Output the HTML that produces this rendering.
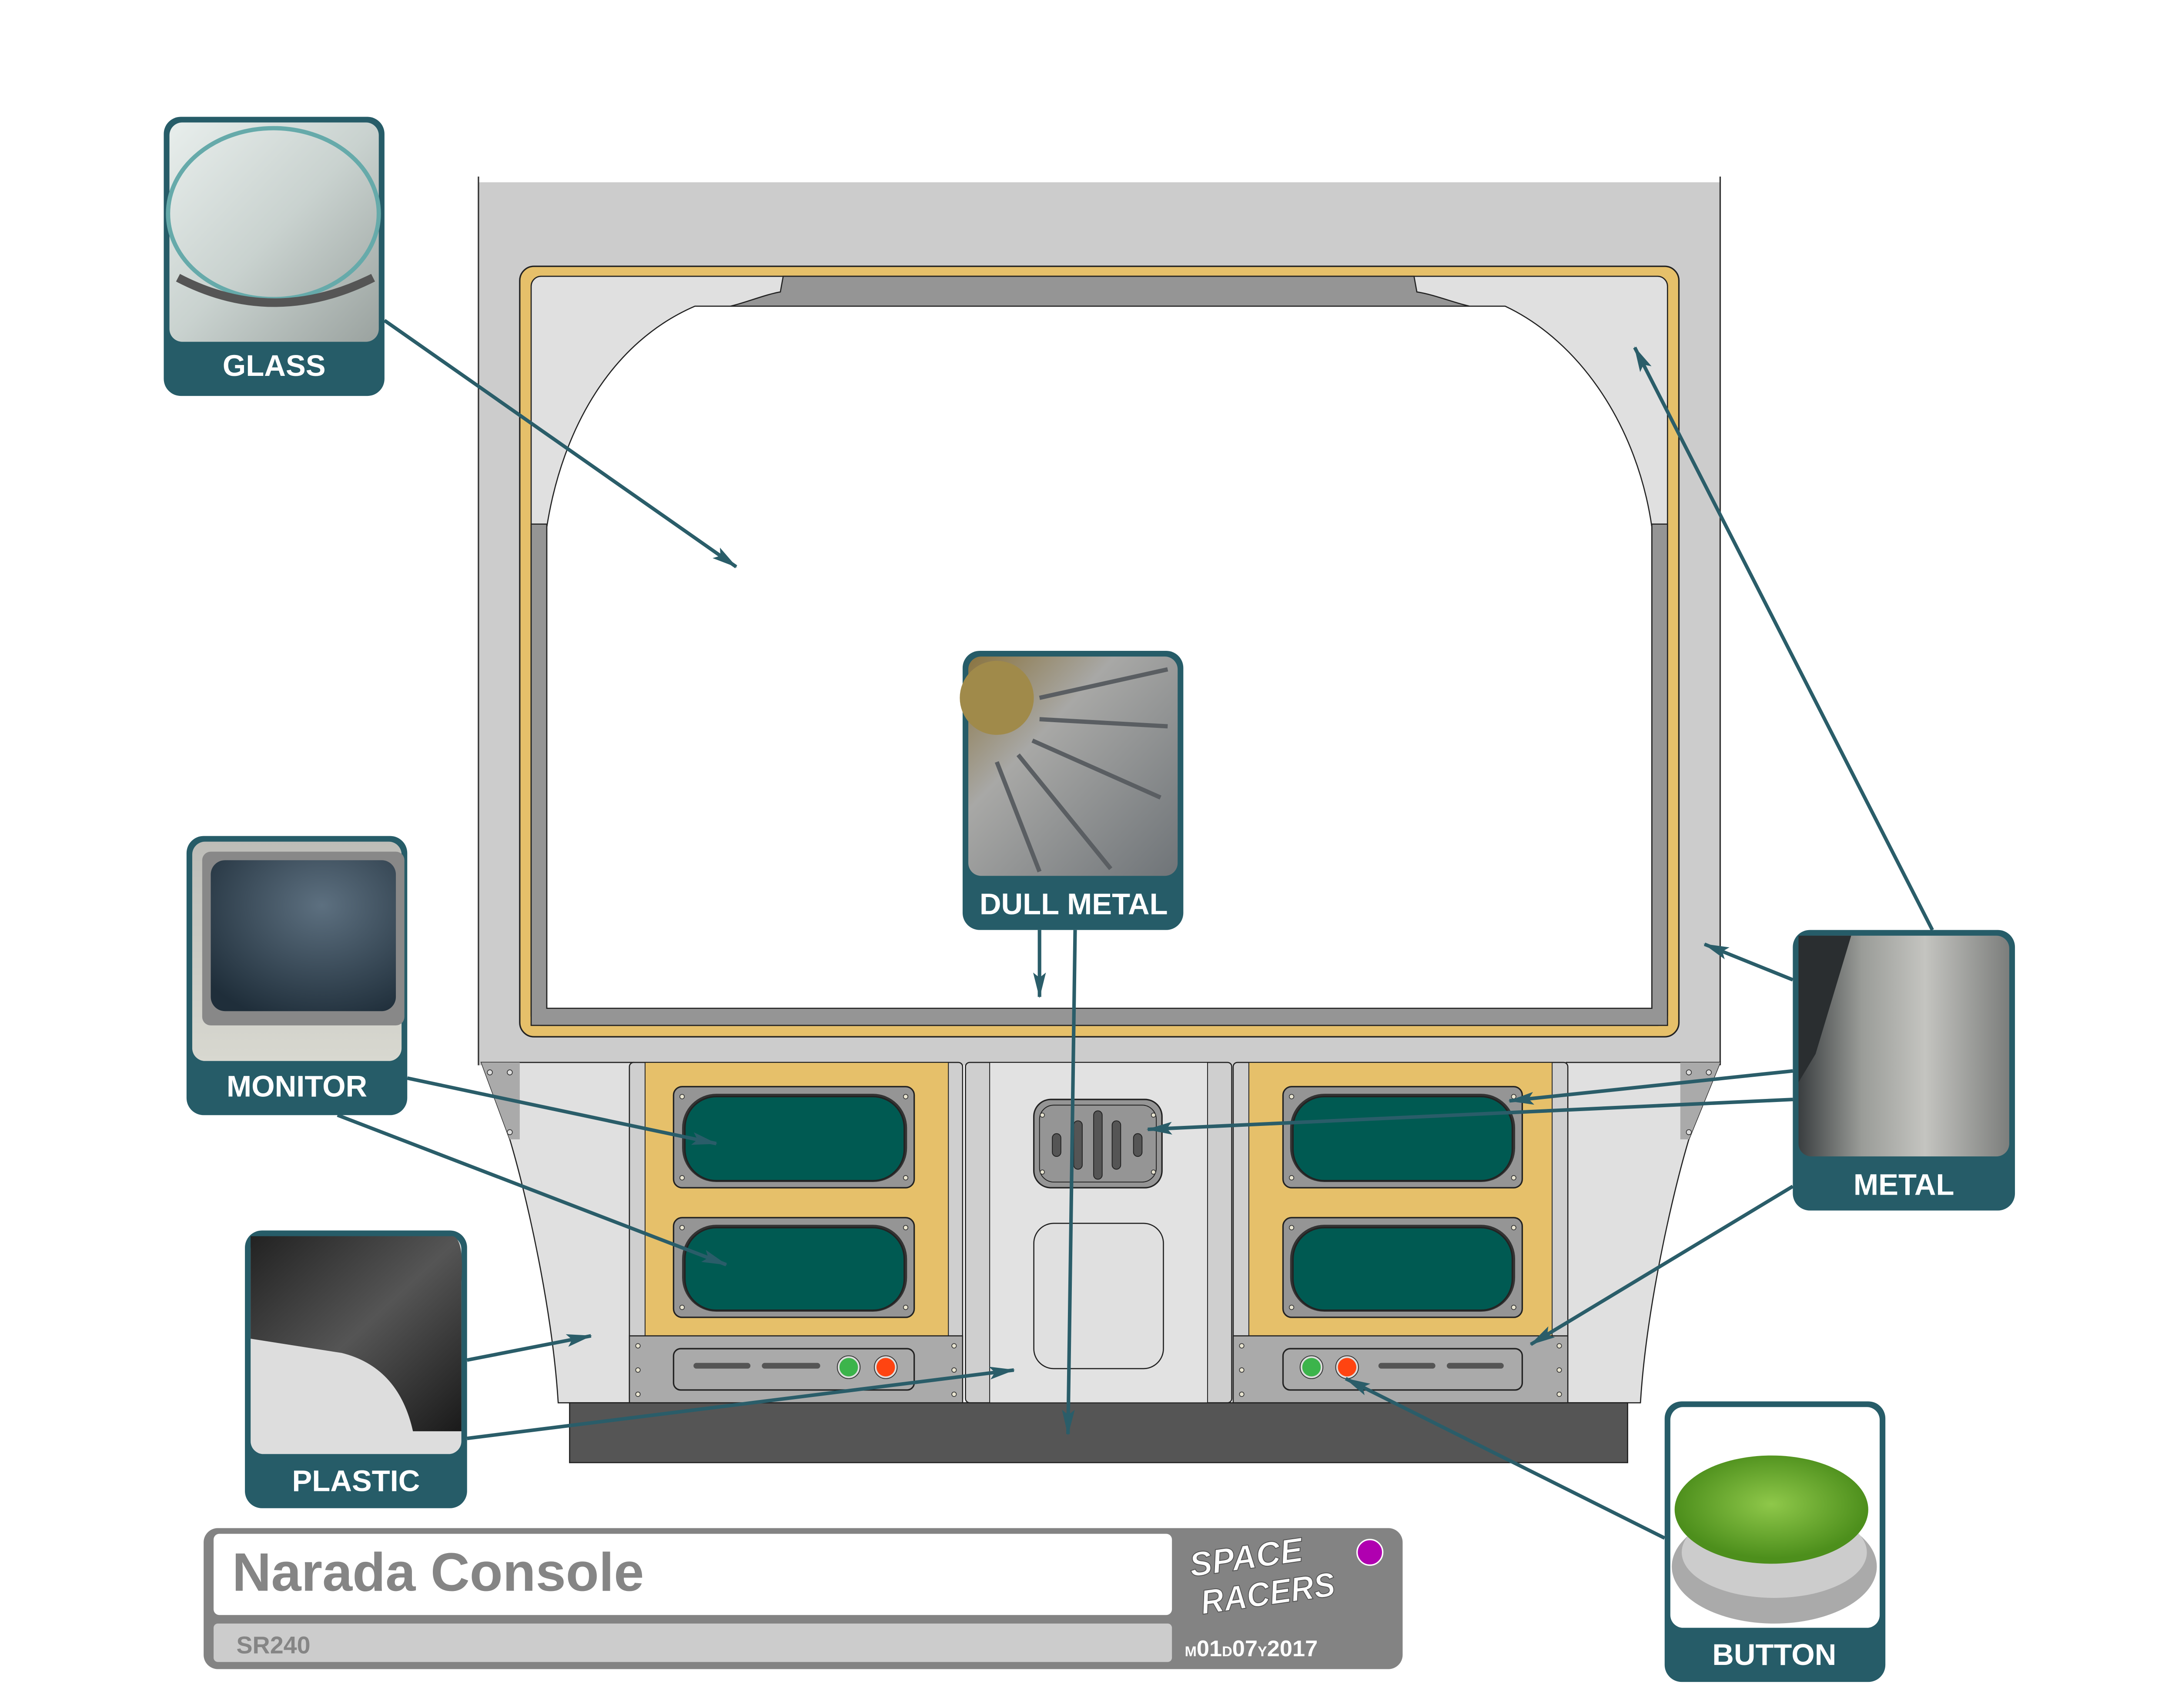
<!DOCTYPE html>
<html><head><meta charset="utf-8"><style>html,body{margin:0;padding:0;background:#fff}svg{display:block}</style></head>
<body>
<svg width="5074" height="3926" viewBox="0 0 1550 1199.3" xmlns="http://www.w3.org/2000/svg" font-family="Liberation Sans, sans-serif">
<defs>
<marker id="a" viewBox="0 0 20 10" refX="19" refY="5" markerWidth="18" markerHeight="10" orient="auto" markerUnits="userSpaceOnUse"><path d="M0,0 L20,5 L0,10 L4,5 z" fill="#2a5d69"/></marker>
<linearGradient id="glass" x1="0" y1="0" x2="1" y2="1"><stop offset="0" stop-color="#e8eeec"/><stop offset=".5" stop-color="#c9d2cf"/><stop offset="1" stop-color="#9aa29f"/></linearGradient>
<linearGradient id="mon" x1="0" y1="0" x2="0" y2="1"><stop offset="0" stop-color="#bdbdb8"/><stop offset="1" stop-color="#d8d8d0"/></linearGradient>
<radialGradient id="scr" cx=".6" cy=".3" r=".8"><stop offset="0" stop-color="#5d7080"/><stop offset="1" stop-color="#1f2e3a"/></radialGradient>
<linearGradient id="plas" x1="0" y1="0" x2="1" y2="1"><stop offset="0" stop-color="#222"/><stop offset=".5" stop-color="#555"/><stop offset="1" stop-color="#1a1a1a"/></linearGradient>
<linearGradient id="dull" x1="0" y1="0" x2="1" y2="1"><stop offset="0" stop-color="#8a7440"/><stop offset=".35" stop-color="#a8a8a6"/><stop offset="1" stop-color="#6f7478"/></linearGradient>
<linearGradient id="met" x1="0" y1="0" x2="1" y2="0"><stop offset="0" stop-color="#3a3e40"/><stop offset=".3" stop-color="#9a9c98"/><stop offset=".6" stop-color="#c4c4c0"/><stop offset="1" stop-color="#7c7e7c"/></linearGradient>
<radialGradient id="btn" cx=".5" cy=".45" r=".5"><stop offset="0" stop-color="#8fc84a"/><stop offset="1" stop-color="#4d8f1c"/></radialGradient>
</defs>

<rect x="336" y="128" width="872" height="620" fill="#cccccc"/>
<line x1="336" y1="124" x2="336" y2="748" stroke="#333" stroke-width="1"/>
<line x1="1208" y1="124" x2="1208" y2="748" stroke="#333" stroke-width="1"/>
<rect x="365" y="187" width="814" height="541" rx="10" fill="#e6c06a" stroke="#222" stroke-width="1"/>
<rect x="373" y="194" width="798" height="526" rx="7" fill="#e0e0e0" stroke="#222" stroke-width="0.8"/>
<path d="M550,194 L993,194 L995,205 C1015,208 1040,222 1057,215 L488,215 C505,222 530,208 548,205 Z" fill="#959595" stroke="#222" stroke-width="0.8"/>
<path d="M373,368 L384,368 L384,708 L1160,708 L1160,368 L1171,368 L1171,720 L373,720 Z" fill="#959595" stroke="#222" stroke-width="0.8"/>
<path d="M384,708 L384,370 C395,300 430,240 488,215 L1057,215 C1110,240 1150,300 1160,370 L1160,708 Z" fill="#fff" stroke="#222" stroke-width="0.8"/>

<path d="M338,746 L445,746 L445,985 L392,985 C388,920 370,840 358,800 Z" fill="#e0e0e0" stroke="#222" stroke-width="0.8"/>
<path d="M338,746 L365,746 L365,800 L358,800 Z" fill="#aaa"/>
<path d="M1208,746 L1100,746 L1100,985 L1152,985 C1156,920 1174,840 1186,800 Z" fill="#e0e0e0" stroke="#222" stroke-width="0.8"/>
<path d="M1208,746 L1180,746 L1180,800 L1186,800 Z" fill="#aaa"/>
<g fill="#ddd" stroke="#333" stroke-width=".5"><circle cx="344" cy="753" r="1.8"/><circle cx="358" cy="753" r="1.8"/><circle cx="358" cy="795" r="1.8"/><circle cx="1186" cy="753" r="1.8"/><circle cx="1200" cy="753" r="1.8"/><circle cx="1186" cy="795" r="1.8"/></g>

<rect x="400" y="985" width="743" height="42" fill="#555" stroke="#222" stroke-width=".8"/>

<rect x="442" y="746" width="234" height="239" rx="3" fill="#cfcfcf" stroke="#222" stroke-width=".8"/>
<rect x="453" y="746" width="213" height="192" fill="#e6c06a" stroke="#222" stroke-width=".6"/>
<rect x="442" y="938" width="234" height="47" fill="#aaaaaa" stroke="#222" stroke-width=".8"/>
<rect x="473" y="763" width="169" height="71" rx="6" fill="#959595" stroke="#222"/>
<rect x="479" y="768" width="158" height="62" rx="24" fill="#333"/>
<rect x="481" y="770" width="154" height="59" rx="22" fill="#005a52" stroke="#222"/>
<rect x="473" y="855" width="169" height="70" rx="6" fill="#959595" stroke="#222"/>
<rect x="479" y="860" width="158" height="61" rx="24" fill="#333"/>
<rect x="481" y="862" width="154" height="58" rx="22" fill="#005a52" stroke="#222"/>
<rect x="473" y="947" width="169" height="29" rx="5" fill="#aaa" stroke="#222"/>
<rect x="487" y="957" width="40" height="4" rx="2" fill="#555"/><rect x="535" y="957" width="41" height="4" rx="2" fill="#555"/>
<circle cx="596" cy="960" r="8" fill="#ddd" stroke="#333" stroke-width=".6"/><circle cx="596" cy="960" r="6.5" fill="#3cb44b"/>
<circle cx="622" cy="960" r="8" fill="#ddd" stroke="#333" stroke-width=".6"/><circle cx="622" cy="960" r="6.5" fill="#ff4411"/>

<rect x="678" y="746" width="187" height="239" rx="3" fill="#cfcfcf" stroke="#222" stroke-width=".8"/>
<rect x="695" y="746" width="153" height="239" fill="#e2e2e2" stroke="#222" stroke-width=".6"/>
<rect x="726" y="772" width="90" height="62" rx="12" fill="#959595" stroke="#222"/>
<rect x="730" y="776" width="82" height="54" rx="10" fill="none" stroke="#222" stroke-width=".6"/>
<g fill="#555" stroke="#222" stroke-width=".6"><rect x="739" y="796" width="6" height="16" rx="3"/><rect x="754" y="787" width="6" height="34" rx="3"/><rect x="768" y="780" width="6" height="48" rx="3"/><rect x="781" y="787" width="6" height="34" rx="3"/><rect x="796" y="796" width="6" height="16" rx="3"/></g>
<rect x="726" y="859" width="91" height="102" rx="14" fill="#e0e0e0" stroke="#222" stroke-width=".8"/>

<rect x="866" y="746" width="235" height="239" rx="3" fill="#cfcfcf" stroke="#222" stroke-width=".8"/>
<rect x="877" y="746" width="213" height="192" fill="#e6c06a" stroke="#222" stroke-width=".6"/>
<rect x="866" y="938" width="235" height="47" fill="#aaaaaa" stroke="#222" stroke-width=".8"/>
<rect x="901" y="763" width="168" height="71" rx="6" fill="#959595" stroke="#222"/>
<rect x="906" y="768" width="158" height="62" rx="24" fill="#333"/>
<rect x="908" y="770" width="154" height="59" rx="22" fill="#005a52" stroke="#222"/>
<rect x="901" y="855" width="168" height="70" rx="6" fill="#959595" stroke="#222"/>
<rect x="906" y="860" width="158" height="61" rx="24" fill="#333"/>
<rect x="908" y="862" width="154" height="58" rx="22" fill="#005a52" stroke="#222"/>
<rect x="901" y="947" width="168" height="29" rx="5" fill="#aaa" stroke="#222"/>
<rect x="968" y="957" width="40" height="4" rx="2" fill="#555"/><rect x="1016" y="957" width="40" height="4" rx="2" fill="#555"/>
<circle cx="921" cy="960" r="8" fill="#ddd" stroke="#333" stroke-width=".6"/><circle cx="921" cy="960" r="6.5" fill="#3cb44b"/>
<circle cx="946" cy="960" r="8" fill="#ddd" stroke="#333" stroke-width=".6"/><circle cx="946" cy="960" r="6.5" fill="#ff4411"/>

<g fill="#e8e4d0" stroke="#333" stroke-width=".5">
<circle cx="479" cy="770" r="1.6"/><circle cx="636" cy="770" r="1.6"/><circle cx="479" cy="827" r="1.6"/><circle cx="636" cy="827" r="1.6"/>
<circle cx="479" cy="862" r="1.6"/><circle cx="636" cy="862" r="1.6"/><circle cx="479" cy="918" r="1.6"/><circle cx="636" cy="918" r="1.6"/>
<circle cx="907" cy="770" r="1.6"/><circle cx="1063" cy="770" r="1.6"/><circle cx="907" cy="827" r="1.6"/><circle cx="1063" cy="827" r="1.6"/>
<circle cx="907" cy="862" r="1.6"/><circle cx="1063" cy="862" r="1.6"/><circle cx="907" cy="918" r="1.6"/><circle cx="1063" cy="918" r="1.6"/>
<circle cx="448" cy="945" r="1.6"/><circle cx="448" cy="962" r="1.6"/><circle cx="448" cy="979" r="1.6"/><circle cx="670" cy="945" r="1.6"/><circle cx="670" cy="962" r="1.6"/><circle cx="670" cy="979" r="1.6"/>
<circle cx="872" cy="945" r="1.6"/><circle cx="872" cy="962" r="1.6"/><circle cx="872" cy="979" r="1.6"/><circle cx="1095" cy="945" r="1.6"/><circle cx="1095" cy="962" r="1.6"/><circle cx="1095" cy="979" r="1.6"/>
<circle cx="732" cy="783" r="1.5"/><circle cx="810" cy="783" r="1.5"/><circle cx="732" cy="823" r="1.5"/><circle cx="810" cy="823" r="1.5"/>
</g>

<g stroke="#2a5d69" stroke-width="2.5" fill="none" marker-end="url(#a)">
<line x1="270" y1="225" x2="517" y2="398"/>
<line x1="286" y1="757" x2="503" y2="803"/>
<line x1="237" y1="783" x2="510" y2="888"/>
<line x1="328" y1="955" x2="415" y2="938"/>
<line x1="328" y1="1010" x2="712" y2="962"/>
<line x1="730" y1="653" x2="730" y2="700"/>
<line x1="755" y1="653" x2="750" y2="1007"/>
<line x1="1357" y1="653" x2="1148" y2="244"/>
<line x1="1259" y1="688" x2="1197" y2="663"/>
<line x1="1259" y1="752" x2="1060" y2="773"/>
<line x1="1259" y1="772" x2="806" y2="793"/>
<line x1="1259" y1="833" x2="1075" y2="944"/>
<line x1="1169" y1="1080" x2="945" y2="968"/>
</g>

<g font-weight="bold" font-size="21" fill="#fff" text-anchor="middle">
<rect x="115" y="82" width="155" height="196" rx="12" fill="#265c68"/>
<rect x="119" y="86" width="147" height="154" rx="9" fill="url(#glass)"/>
<ellipse cx="192" cy="150" rx="74" ry="60" fill="none" stroke="#6aa" stroke-width="3"/>
<path d="M125,195 Q192,230 262,195" stroke="#555" stroke-width="6" fill="none"/>
<text x="192.5" y="264">GLASS</text>

<rect x="131" y="587" width="155" height="196" rx="12" fill="#265c68"/>
<rect x="135" y="591" width="147" height="154" rx="9" fill="url(#mon)"/>
<rect x="142" y="598" width="142" height="122" rx="6" fill="#888"/>
<rect x="148" y="604" width="130" height="106" rx="10" fill="url(#scr)"/>
<text x="208.5" y="770">MONITOR</text>

<rect x="172" y="864" width="156" height="195" rx="12" fill="#265c68"/>
<rect x="176" y="868" width="148" height="153" rx="9" fill="#ddd"/>
<path d="M176,868 L318,868 Q326,870 324,900 L324,1005 L290,1005 Q280,960 240,950 L176,940 Z" fill="url(#plas)"/>
<text x="250" y="1047">PLASTIC</text>

<rect x="676" y="457" width="155" height="196" rx="12" fill="#265c68"/>
<rect x="680" y="461" width="147" height="154" rx="9" fill="url(#dull)"/>
<circle cx="700" cy="490" r="26" fill="#a08a4a"/>
<g stroke="#5a5e62" stroke-width="3"><line x1="730" y1="490" x2="820" y2="470"/><line x1="730" y1="505" x2="820" y2="510"/><line x1="725" y1="520" x2="815" y2="560"/><line x1="715" y1="530" x2="780" y2="610"/><line x1="700" y1="535" x2="730" y2="612"/></g>
<text x="754" y="642">DULL METAL</text>

<rect x="1259" y="653" width="156" height="197" rx="12" fill="#265c68"/>
<rect x="1263" y="657" width="148" height="155" rx="9" fill="url(#met)"/>
<path d="M1263,657 L1300,657 L1275,740 L1263,760 Z" fill="#2a2e30"/>
<text x="1337" y="839">METAL</text>

<rect x="1169" y="984" width="155" height="197" rx="12" fill="#265c68"/>
<rect x="1173" y="988" width="147" height="155" rx="9" fill="#fff"/>
<ellipse cx="1246" cy="1100" rx="72" ry="40" fill="#aaa"/>
<ellipse cx="1246" cy="1090" rx="65" ry="32" fill="#ccc"/>
<ellipse cx="1244" cy="1060" rx="68" ry="38" fill="url(#btn)"/>
<text x="1246" y="1169">BUTTON</text>
</g>

<rect x="143" y="1073" width="842" height="99" rx="10" fill="#838383"/>
<rect x="150" y="1077" width="673" height="57" rx="4" fill="#fff"/>
<rect x="150" y="1140" width="673" height="27" rx="3" fill="#cccccc"/>
<text x="163" y="1117" font-size="38" font-weight="bold" fill="#858585">Narada Console</text>
<text x="166" y="1161" font-size="17" font-weight="bold" fill="#858585">SR240</text>
<text x="836" y="1101" font-size="24" font-weight="bold" font-style="italic" fill="#fff" stroke="#555" stroke-width=".6" transform="rotate(-8 880 1100)" textLength="80" lengthAdjust="spacingAndGlyphs">SPACE</text>
<text x="843" y="1127" font-size="24" font-weight="bold" font-style="italic" fill="#fff" stroke="#555" stroke-width=".6" transform="rotate(-8 890 1120)" textLength="95" lengthAdjust="spacingAndGlyphs">RACERS</text>
<circle cx="962" cy="1090" r="9" fill="#b000b0" stroke="#fff" stroke-width="1"/>
<text x="832" y="1163" font-size="16" font-weight="bold" fill="#fff"><tspan font-size="10">M</tspan>01<tspan font-size="10">D</tspan>07<tspan font-size="10">Y</tspan>2017</text>
</svg>
</body></html>
